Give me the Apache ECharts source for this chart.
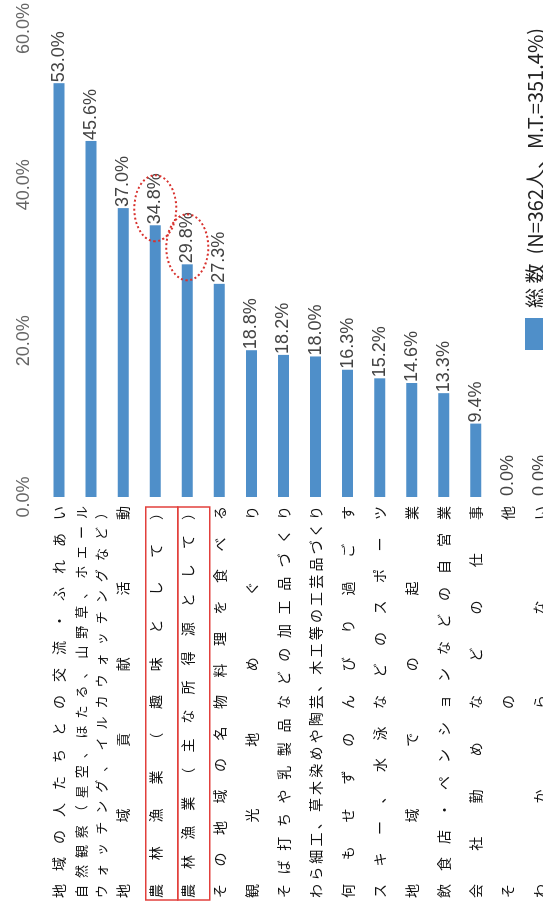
<!DOCTYPE html>
<html>
<head>
<meta charset="utf-8">
<script src="https://cdn.jsdelivr.net/npm/echarts@6/dist/echarts.min.js"></script>
<style>
  html, body { margin: 0; padding: 0; width: 543px; height: 903px; overflow: hidden; background: #fff; }
  #chart {
    position: absolute; left: 0; top: 0;
    width: 903px; height: 570px;
    transform-origin: 0 0;
    transform: translateY(903px) rotate(-90deg);
  }
</style>
</head>
<body>
<div id="chart"></div>
<script>
// ---- data ----
const categories = [
  '地域の人たちとの交流・ふれあい',
  '自然観察（星空、ほたる、山野草、ホエール\nウォッチング、イルカウォッチングなど）',
  '地域貢献活動',
  '農林漁業（趣味として）',
  '農林漁業（主な所得源として）',
  'その地域の名物料理を食べる',
  '観光地めぐり',
  'そば打ちや乳製品などの加工品づくり',
  'わら細工、草木染めや陶芸、木工等の工芸品づくり',
  '何もせずのんびり過ごす',
  'スキー、水泳などのスポーツ',
  '地域での起業',
  '飲食店・ペンションなどの自営業',
  '会社勤めなどの仕事',
  'その他',
  'わからない'
];
const values = [53.0, 45.6, 37.0, 34.8, 29.8, 27.3, 18.8, 18.2, 18.0, 16.3, 15.2, 14.6, 13.3, 9.4, 0.0, 0.0];
const axisTicks = [0, 20, 40, 60];
const seriesName = '総 数  (N=362人、M.T.=351.4%)';
const highlighted = ['農林漁業（趣味として）', '農林漁業（主な所得源として）'];

// ---- justified category labels (rich text) ----
const LABEL_W = 392;
const CJK = 'Noto Sans CJK JP';
const rich = {};
function justify(text) {
  const lines = text.split('\n');
  const fs = lines.length > 1 ? 13 : 14;
  const lh = lines.length > 1 ? 20 : 16;
  return lines.map(line => {
    const chars = Array.from(line);
    const n = chars.length;
    const pitch = (LABEL_W - fs) / (n - 1);
    const key = 'c' + fs + 'n' + n;
    const endKey = 'e' + fs;
    rich[key] = { width: pitch, align: 'left', fontSize: fs, lineHeight: lh, fontFamily: CJK, color: '#111' };
    rich[endKey] = { align: 'left', fontSize: fs, lineHeight: lh, fontFamily: CJK, color: '#111' };
    return chars.map((c, i) => '{' + (i < n - 1 ? key : endKey) + '|' + c + '}').join('');
  }).join('\n');
}
const labelTexts = categories.map(justify);

const chart = echarts.init(document.getElementById('chart'));
chart.setOption({
  animation: false,
  backgroundColor: '#fff',
  grid: { left: 406, right: 28, top: 43, bottom: 14, containLabel: false },
  legend: {
    data: [seriesName],
    left: 553, top: 525, padding: 0,
    itemWidth: 32, itemHeight: 20,
    icon: 'rect',
    textStyle: { fontSize: 20, color: '#222', fontFamily: CJK, padding: [0, 0, 0, 5] }
  },
  xAxis: {
    type: 'value',
    position: 'top',
    min: axisTicks[0], max: axisTicks[axisTicks.length - 1], interval: axisTicks[1] - axisTicks[0],
    axisLine: { show: false }, axisTick: { show: false }, splitLine: { show: false },
    axisLabel: {
      margin: 10, fontSize: 18, color: '#666', fontFamily: 'Liberation Sans',
      formatter: v => v.toFixed(1) + '%'
    }
  },
  yAxis: {
    type: 'category',
    inverse: true,
    data: categories,
    axisLine: { show: false }, axisTick: { show: false },
    axisLabel: {
      margin: 9, interval: 0,
      formatter: (v, idx) => labelTexts[idx],
      rich: rich
    }
  },
  series: [
    {
      name: seriesName,
      type: 'bar',
      data: values,
      barWidth: 11,
      itemStyle: { color: '#4f8fc9' },
      label: {
        show: true, position: 'right', distance: 1,
        fontSize: 18, color: '#444', fontFamily: 'Liberation Sans',
        formatter: p => p.value.toFixed(1) + '%'
      }
    },
    {
      type: 'custom',
      clip: false,
      silent: true,
      z: 10,
      data: highlighted.map(c => [values[categories.indexOf(c)], categories.indexOf(c)]),
      encode: { x: 0, y: 1 },
      renderItem: (params, api) => {
        const v = api.value(0), i = api.value(1);
        const p = api.coord([v, i]);
        const bw = api.size([0, 1])[1];
        const cs = params.coordSys;
        return {
          type: 'group',
          children: [
            { type: 'rect',
              shape: { x: cs.x - 403, y: p[1] - bw / 2 + 6.5, width: 393, height: bw },
              style: { fill: 'none', stroke: '#e2403c', lineWidth: 1.5 } },
            { type: 'ellipse',
              shape: { cx: p[0] + 17, cy: p[1], rx: 33, ry: 21 },
              style: { fill: 'none', stroke: '#d8322e', lineWidth: 2, lineDash: [2, 2.5] } }
          ]
        };
      }
    }
  ]
});
</script>
</body>
</html>
